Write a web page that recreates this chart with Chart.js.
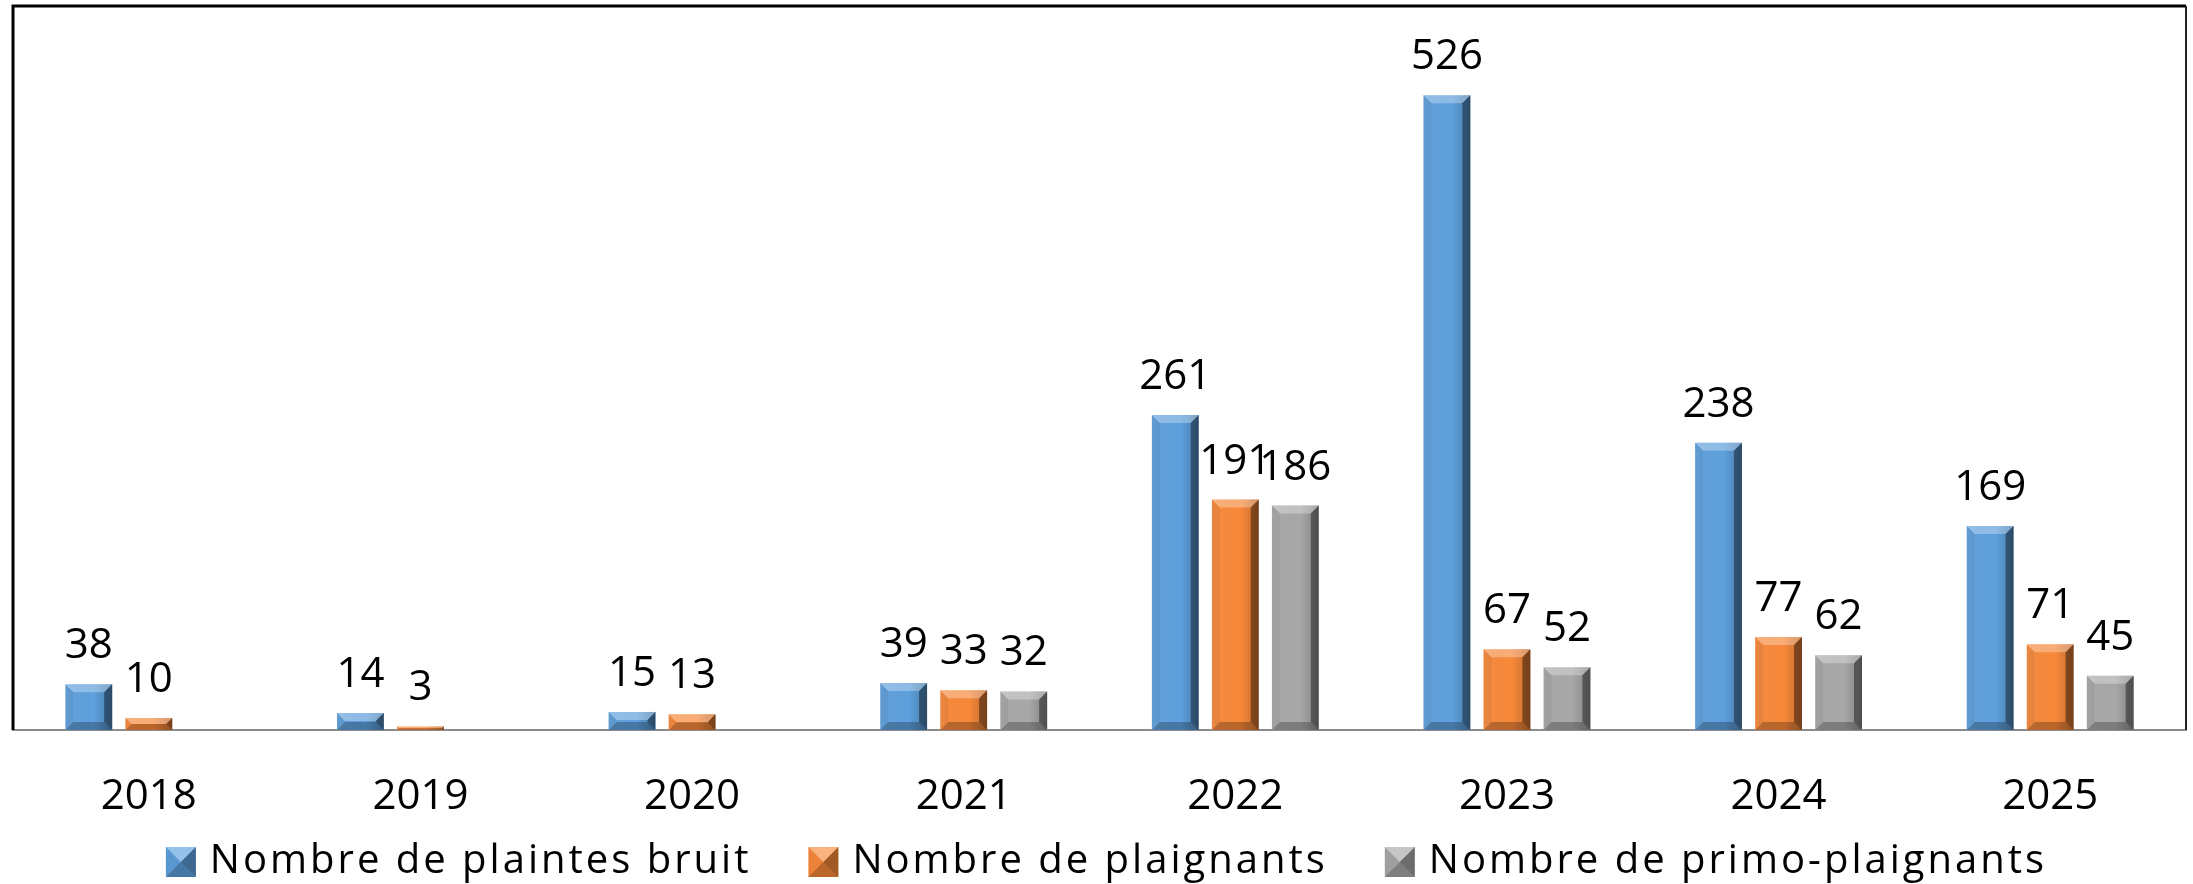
<!DOCTYPE html>
<html>
<head>
<meta charset="utf-8">
<title>Plaintes bruit</title>
<script src="https://cdn.jsdelivr.net/npm/chart.js@4.4.1/dist/chart.umd.min.js"></script>
<style>
  html, body { margin: 0; padding: 0; background: #fff; }
</style>
</head>
<body>
<canvas id="plaintesChart" width="2193" height="884"></canvas>
<script>
// Yearly figures
const years = ['2018', '2019', '2020', '2021', '2022', '2023', '2024', '2025'];
const plaintes = [38, 14, 15, 39, 261, 526, 238, 169];
const plaignants = [10, 3, 13, 33, 191, 67, 77, 71];
const primoPlaignants = [null, null, null, 32, 186, 52, 62, 45];

const seriesNames = ['Nombre de plaintes bruit', 'Nombre de plaignants', 'Nombre de primo-plaignants'];
const seriesColors = ['#5EA0DD', '#F8893A', '#A8A8A8'];

const FONT = 'Open Sans';

function fillPoly(ctx, pts, style) {
    ctx.beginPath();
    ctx.moveTo(pts[0][0], pts[0][1]);
    for (let i = 1; i < pts.length; i++) ctx.lineTo(pts[i][0], pts[i][1]);
    ctx.closePath();
    ctx.fillStyle = style;
    ctx.fill();
}

// pyramid-shaped square used as legend key
function drawKey(ctx, x, y, size, color) {
    const m = size / 2;
    ctx.save();
    ctx.translate(x, y);
    ctx.fillStyle = color;
    ctx.fillRect(0, 0, size, size);
    fillPoly(ctx, [[0, 0], [size, 0], [m, m]], 'rgba(255,255,255,0.35)');
    fillPoly(ctx, [[0, 0], [m, m], [0, size]], 'rgba(0,0,0,0.05)');
    fillPoly(ctx, [[size, 0], [size, size], [m, m]], 'rgba(0,0,0,0.35)');
    fillPoly(ctx, [[0, size], [size, size], [m, m]], 'rgba(0,0,0,0.25)');
    ctx.restore();
}

// bevelled look on each bar
const bevelBars = {
    id: 'bevelBars',
    afterDatasetsDraw(chart) {
        const ctx = chart.ctx;
        ctx.save();
        chart.data.datasets.forEach((ds, i) => {
            const meta = chart.getDatasetMeta(i);
            meta.data.forEach((bar, j) => {
                if (ds.data[j] == null) return;
                const p = bar.getProps(['x', 'y', 'base', 'width'], true);
                const l = p.x - p.width / 2, r = p.x + p.width / 2, t = p.y, b = p.base;
                const e = Math.min(8, (b - t) / 2, p.width / 2);

                const grad = ctx.createLinearGradient(l, 0, r, 0);
                grad.addColorStop(0, 'rgba(255,255,255,0.06)');
                grad.addColorStop(0.6, 'rgba(0,0,0,0)');
                grad.addColorStop(1, 'rgba(0,0,0,0.22)');
                ctx.fillStyle = grad;
                ctx.fillRect(l, t, r - l, b - t);

                fillPoly(ctx, [[l, t], [r, t], [r - e, t + e], [l + e, t + e]], 'rgba(255,255,255,0.3)');
                fillPoly(ctx, [[l, t], [l + e, t + e], [l + e, b - e], [l, b]], 'rgba(0,0,0,0.06)');
                fillPoly(ctx, [[r, t], [r, b], [r - e, b - e], [r - e, t + e]], 'rgba(0,0,0,0.4)');
                fillPoly(ctx, [[l, b], [r, b], [r - e, b - e], [l + e, b - e]], 'rgba(0,0,0,0.25)');
            });
        });
        ctx.restore();
    }
};

// value above each bar
const valueLabels = {
    id: 'valueLabels',
    afterDatasetsDraw(chart) {
        const ctx = chart.ctx;
        ctx.save();
        ctx.font = '42px "' + FONT + '"';
        ctx.fillStyle = '#000';
        ctx.textAlign = 'center';
        ctx.textBaseline = 'alphabetic';
        chart.data.datasets.forEach((ds, i) => {
            const meta = chart.getDatasetMeta(i);
            meta.data.forEach((bar, j) => {
                if (ds.data[j] == null) return;
                ctx.fillText(String(ds.data[j]), bar.x, bar.y - 26);
            });
        });
        ctx.restore();
    }
};

// black frame round the plot
const plotFrame = {
    id: 'plotFrame',
    afterDraw(chart) {
        const a = chart.chartArea;
        const ctx = chart.ctx;
        ctx.save();
        ctx.strokeStyle = '#000';
        ctx.lineWidth = 3;
        ctx.beginPath();
        ctx.moveTo(a.left, a.bottom);
        ctx.lineTo(a.left, a.top);
        ctx.lineTo(a.right, a.top);
        ctx.stroke();
        ctx.lineWidth = 2;
        ctx.strokeStyle = '#222';
        ctx.beginPath();
        ctx.moveTo(a.right, a.top);
        ctx.lineTo(a.right, a.bottom);
        ctx.stroke();
        ctx.restore();
    }
};

// single-row legend under the axis labels
const KEY_SIZE = 30, KEY_GAP = 14, ITEM_GAP = 57;
const legendRow = {
    id: 'legendRow',
    afterDraw(chart) {
        const ctx = chart.ctx;
        ctx.save();
        ctx.font = '40px "' + FONT + '"';
        ctx.letterSpacing = '3px';
        ctx.textBaseline = 'middle';
        ctx.textAlign = 'left';
        ctx.fillStyle = '#000';
        const names = chart.data.datasets.map(ds => ds.label);
        const widths = names.map(n => ctx.measureText(n).width);
        const total = widths.reduce((s, w) => s + KEY_SIZE + KEY_GAP + w, 0) + ITEM_GAP * (names.length - 1);
        let x = (chart.width - total) / 2 + 10;
        const y = chart.height - 22;
        names.forEach((name, i) => {
            drawKey(ctx, x, y - KEY_SIZE / 2, KEY_SIZE, chart.data.datasets[i].backgroundColor);
            x += KEY_SIZE + KEY_GAP;
            ctx.fillStyle = '#000';
            ctx.fillText(name, x, y);
            x += widths[i] + ITEM_GAP;
        });
        ctx.restore();
    }
};

const ctx = document.getElementById('plaintesChart').getContext('2d');
const plaintesChart = new Chart(ctx, {
    type: 'bar',
    data: {
        labels: years,
        datasets: [
            { label: seriesNames[0], data: plaintes, backgroundColor: seriesColors[0] },
            { label: seriesNames[1], data: plaignants, backgroundColor: seriesColors[1] },
            { label: seriesNames[2], data: primoPlaignants, backgroundColor: seriesColors[2] }
        ]
    },
    options: {
        responsive: false,
        animation: false,
        devicePixelRatio: 1,
        layout: { padding: { top: 6, left: 13, right: 7, bottom: 62 } },
        datasets: {
            bar: { categoryPercentage: 0.663, barPercentage: 0.78 }
        },
        scales: {
            x: {
                grid: { display: false, drawTicks: false },
                border: { display: true, color: '#8c8c8c', width: 2 },
                ticks: {
                    color: '#000',
                    padding: 42,
                    maxRotation: 0,
                    font: { family: FONT, size: 42 }
                },
                afterFit(scale) { scale.height = 92; }
            },
            y: {
                display: false,
                min: 0,
                max: 600
            }
        },
        plugins: {
            tooltip: { enabled: false },
            legend: { display: false }
        }
    },
    plugins: [bevelBars, valueLabels, plotFrame, legendRow]
});
</script>
</body>
</html>
